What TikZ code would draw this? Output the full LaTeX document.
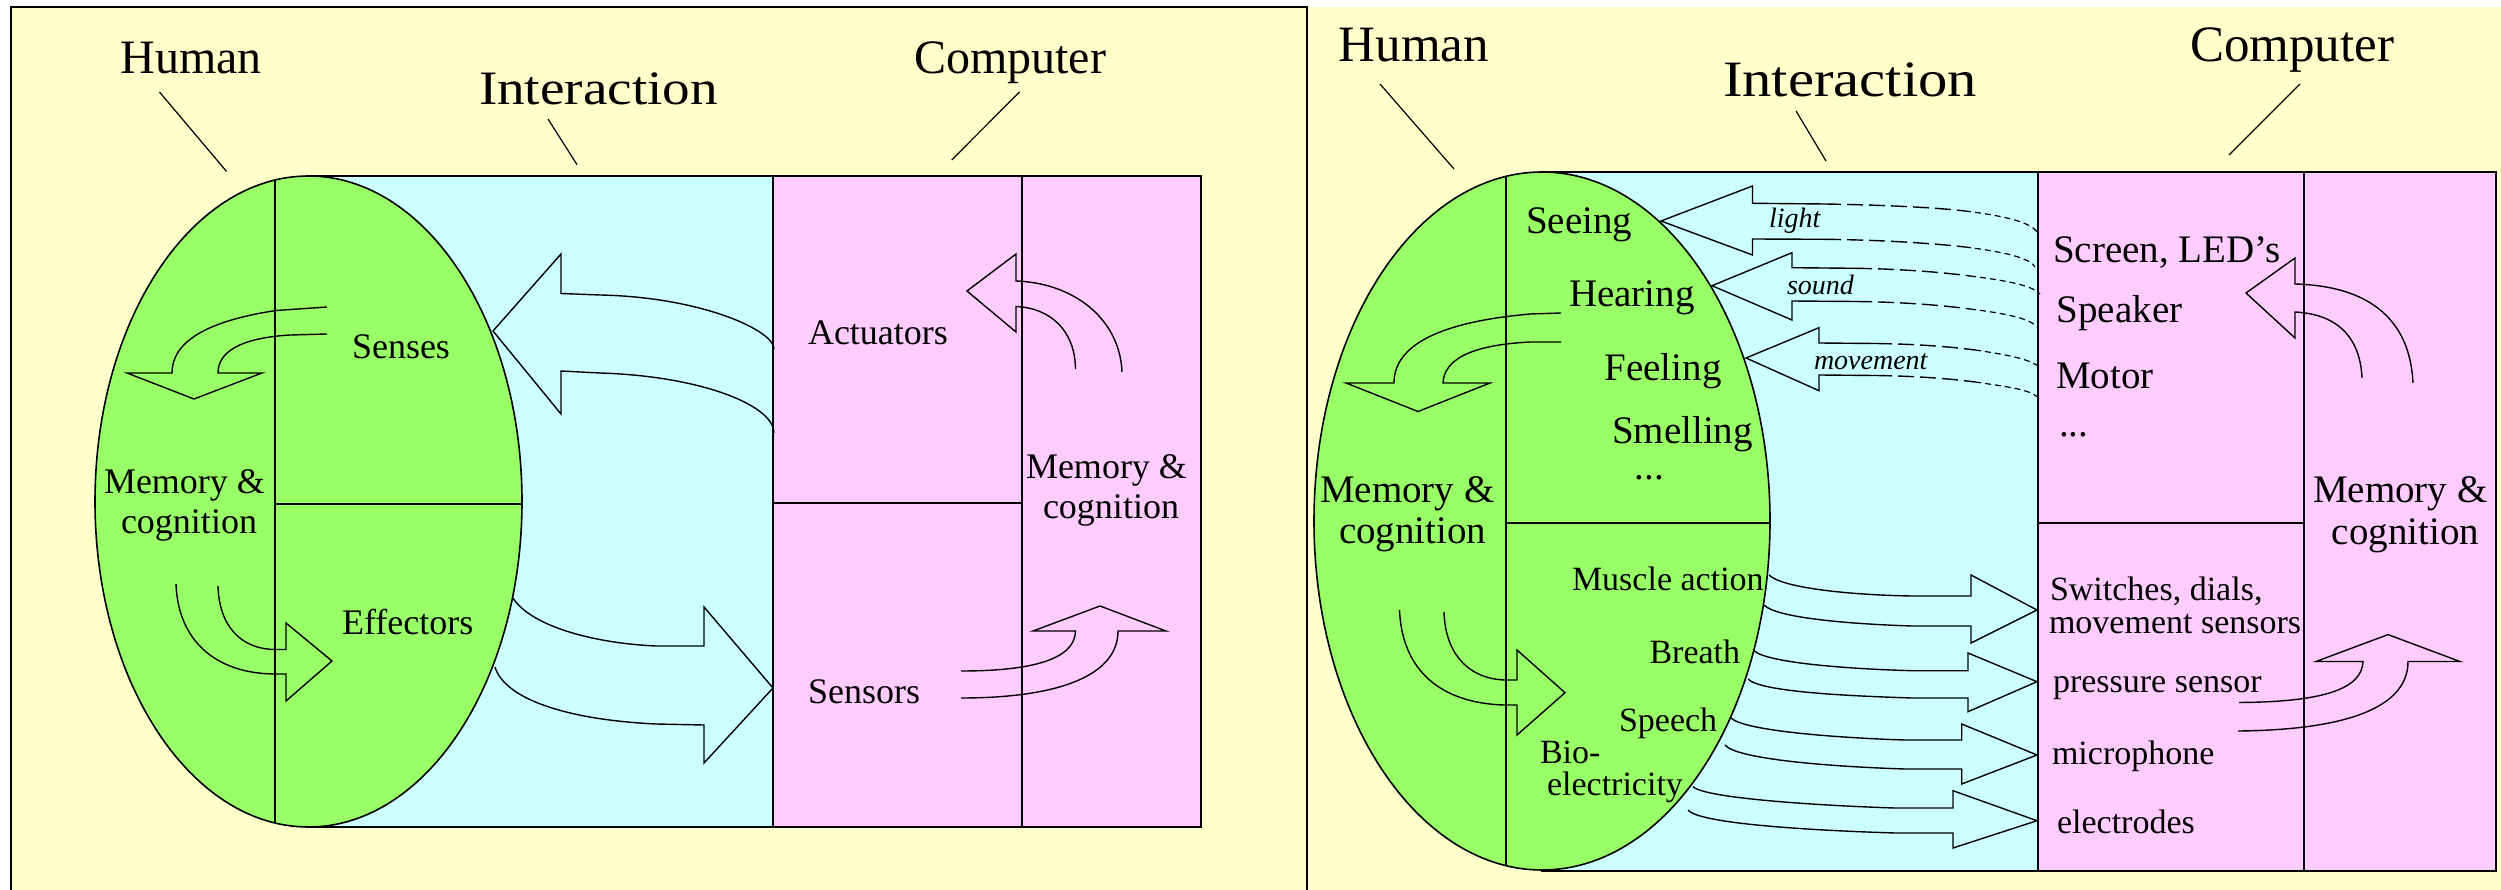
\documentclass[tikz,border=0pt]{standalone}
\usepackage{fontspec}
\setmainfont{Liberation Serif}
\definecolor{bgy}{RGB}{255,255,204}
\definecolor{cy}{RGB}{204,255,255}
\definecolor{gr}{RGB}{153,255,102}
\definecolor{pk}{RGB}{255,204,255}
\newcommand{\myfs}[1]{\fontsize{#1}{#1}\selectfont}
\begin{document}
\begin{tikzpicture}[x=1pt,y=-1pt,
  box/.style={draw=black,line width=2pt},
  divl/.style={draw=black,line width=1.6pt},
  blk/.style={draw=black,line width=1.4pt,line join=miter},
  dsh/.style={draw=black,line width=1.4pt,dash pattern=on 16pt off 6pt},
  dtt/.style={draw=black,line width=1.2pt,dash pattern=on 6pt off 4pt},
  lead/.style={draw=black,line width=1.2pt},
  lbl/.style={anchor=base west,inner sep=0pt,outer sep=0pt},
  ttlA/.style={lbl,font=\myfs{48}},
  ttlB/.style={lbl,font=\myfs{51}},
  inA/.style={lbl,font=\myfs{36}},
  inB/.style={lbl,font=\myfs{39}},
  inC/.style={lbl,font=\myfs{34}},
  itl/.style={lbl,font=\myfs{28}\itshape}]
\useasboundingbox (0,0) rectangle (2501,890);
\fill[white] (0,0) rectangle (2501,890);
% panels
\fill[bgy] (11,7) rectangle (1307,890);
\fill[bgy] (1307,7) rectangle (2501,890);
\draw[box] (11,890) -- (11,7) -- (1307,7) -- (1307,890);

% ---------------- LEFT PANEL ----------------
\draw[box,fill=cy] (308.5,176) rectangle (773,827);
\draw[line width=1.6pt,fill=gr] (308.5,501.5) ellipse [x radius=213.5pt, y radius=325.5pt];
\begin{scope}
  \clip (308.5,501.5) ellipse [x radius=213.5pt, y radius=325.5pt];
  \draw[divl] (275,170) -- (275,830);
  \draw[divl] (275,504) -- (530,504);
\end{scope}
\draw[box,fill=pk] (773,176) rectangle (1201,827);
\draw[divl] (1022,176) -- (1022,827);
\draw[divl] (773,503) -- (1022,503);

% arrows left panel
\draw[blk] (774,349) .. controls (774,330) and (700,297) .. (600,295) -- (561,293.5) -- (561,254) -- (493,331) -- (561,414) -- (561,371) -- (600,373) .. controls (700,376) and (774,405) .. (774,433);
\draw[blk] (513,598) .. controls (530,625) and (590,643) .. (656,646) -- (704,646) -- (704,607) -- (773,688) -- (704,763) -- (704,725) -- (656,724) .. controls (570,720) and (505,700) .. (495,667);
\draw[blk] (327,307) -- (276,310.5) .. controls (200,322) and (172,345) .. (172,373) -- (127,373) -- (194,399) -- (262,373) -- (218,373) .. controls (218,352) and (240,338) .. (290,335) -- (327,334);
\draw[blk] (176,584) .. controls (178,640) and (215,674) .. (276,674) -- (286,674) -- (286,701) -- (332,661) -- (286,623) -- (286,649.5) -- (276,649.5) .. controls (240,649.5) and (219,625) .. (218,586);
\draw[blk] (1122,372) .. controls (1120,320) and (1075,283) .. (1016,281) -- (1016,254) -- (967,291) -- (1016,332) -- (1016,306.5) .. controls (1050,308) and (1075,330) .. (1075.5,369);
\draw[blk] (961,698) .. controls (1060,698) and (1118,675) .. (1118,631) -- (1166,631) -- (1100,606) -- (1033,631) -- (1075.5,631) .. controls (1075,660) and (1030,671) .. (961,671);

% texts left panel
\node[ttlA] (lHuman) at (120.4,73.8) {Human};
\node[ttlA] (lInter) at (479,105) {\scalebox{1.15}[1]{Interaction}};
\node[ttlA] (lComp) at (914,73.8) {Computer};
\node[inA] (lSenses) at (352,358.7) {Senses};
\node[inA] (lMem1) at (104,493.8) {Memory \&};
\node[inA] (lCog1) at (121,533.5) {cognition};
\node[inA] (lEff) at (342,634.5) {Effectors};
\node[inA] (lAct) at (808,345) {Actuators};
\node[inA] (lSens) at (808,703.7) {Sensors};
\node[inA] (lMem2) at (1026,478.4) {Memory \&};
\node[inA] (lCog2) at (1043,518) {cognition};

\coordinate (lhA) at (159.5,92);   \coordinate (lhB) at (226.5,171.4);
\coordinate (liA) at (548,119);    \coordinate (liB) at (577,164.6);
\coordinate (lcA) at (1019.5,92);  \coordinate (lcB) at (951.7,160);
\draw[lead] (lhA) -- (lhB);
\draw[lead] (liA) -- (liB);
\draw[lead] (lcA) -- (lcB);

% ---------------- RIGHT PANEL ----------------
\draw[box,fill=cy] (1542,172) rectangle (2038,871);
\draw[line width=1.6pt,fill=gr] (1542,521) ellipse [x radius=228pt, y radius=349pt];
\begin{scope}
  \clip (1542,521) ellipse [x radius=228pt, y radius=349pt];
  \draw[divl] (1506,165) -- (1506,875);
  \draw[divl] (1506,523) -- (1775,523);
\end{scope}
\draw[box,fill=pk] (2038,172) rectangle (2496,871);
\draw[divl] (2304,172) -- (2304,871);
\draw[divl] (2038,523) -- (2304,523);

% dashed arrows (computer -> senses)
\draw[blk] (1825,204) -- (1752.5,203.3) -- (1752.5,186) -- (1661,221) -- (1752.5,255) -- (1752.5,239) -- (1825,239.3);
\draw[dsh] (1825,204) .. controls (1880,205) and (1930,207) .. (1965,211);
\draw[dtt] (1965,211) .. controls (2005,216) and (2030,222) .. (2037,232);
\draw[dsh] (1825,239.3) .. controls (1880,240) and (1930,243) .. (1965,247);
\draw[dtt] (1965,247) .. controls (2005,252) and (2030,258) .. (2035,267);

\draw[blk] (1856,268.3) -- (1792,267.7) -- (1792,252.7) -- (1712,285.7) -- (1792,320) -- (1792,301) -- (1856,301.5);
\draw[dsh] (1856,268.3) .. controls (1900,269) and (1940,272) .. (1970,276);
\draw[dtt] (1970,276) .. controls (2010,281) and (2033,286) .. (2040,294);
\draw[dsh] (1856,301.5) .. controls (1900,302) and (1940,305) .. (1970,309);
\draw[dtt] (1970,309) .. controls (2010,314) and (2030,319) .. (2037,327);

\draw[blk] (1876,343.5) -- (1819,343) -- (1819,327.7) -- (1746,358) -- (1819,390.7) -- (1819,375) -- (1876,375.5);
\draw[dsh] (1876,343.5) .. controls (1910,344) and (1945,346) .. (1975,350);
\draw[dtt] (1975,350) .. controls (2010,355) and (2033,360) .. (2040,368);
\draw[dsh] (1876,375.5) .. controls (1910,376) and (1945,378) .. (1975,382);
\draw[dtt] (1975,382) .. controls (2010,387) and (2030,390) .. (2037,396.7);

% solid arrows (effectors -> sensors)
\draw[blk] (1769,575) .. controls (1782,588) and (1850,595) .. (1912,596) -- (1971,596) -- (1971,575) -- (2037,610) -- (1971,643) -- (1971,626) -- (1912,626) .. controls (1850,624) and (1776,618) .. (1764,605);
\draw[blk] (1754,650.7) .. controls (1767,663) and (1850,669) .. (1912,670.7) -- (1968,670.7) -- (1968,653) -- (2037,681.7) -- (1968,711.7) -- (1968,698) -- (1912,698) .. controls (1850,696) and (1760,692) .. (1748,679);
\draw[blk] (1731,718) .. controls (1744,731) and (1840,738) .. (1905,740) -- (1961.7,740) -- (1961.7,724) -- (2037,755) -- (1961.7,784) -- (1961.7,769) -- (1905,769) .. controls (1840,767) and (1737,760) .. (1725,745);
\draw[blk] (1693,786.7) .. controls (1706,799) and (1830,806) .. (1895,808) -- (1953,808) -- (1953,790.7) -- (2037,820.7) -- (1953,848) -- (1953,833) -- (1895,833) .. controls (1830,831) and (1700,825) .. (1688,810);

% inner arrows right panel
\draw[blk] (1561,313) -- (1530,314) .. controls (1440,322) and (1394,345) .. (1394,383) -- (1346,383) -- (1418,411.5) -- (1490,383) -- (1443,383) .. controls (1444,360) and (1470,345) .. (1530,342) -- (1561,342);
\draw[blk] (1399.5,610) .. controls (1402,670) and (1440,703) .. (1504,705) -- (1517,705) -- (1517,735) -- (1565,692.7) -- (1517,650) -- (1517,680) -- (1504,680) .. controls (1465,678) and (1445,650) .. (1444,612);
\draw[blk] (2413,383) .. controls (2410,320) and (2370,286) .. (2295,284) -- (2295,258) -- (2246,293) -- (2295,338) -- (2295,312) .. controls (2335,314) and (2360,335) .. (2362,378);
\draw[blk] (2238,731) .. controls (2340,730) and (2408,710) .. (2408,661.5) -- (2460,661.5) -- (2388,634.6) -- (2316,661.5) -- (2363,661.5) .. controls (2362,690) and (2320,702) .. (2239,702.5);

% texts right panel
\node[ttlB] (rHuman) at (1338.8,61.3) {Human};
\node[ttlB] (rInter) at (1723,96.5) {\scalebox{1.15}[1]{Interaction}};
\node[ttlB] (rComp) at (2190,61.3) {Computer};
\node[inB] (rSee) at (1526,233.5) {Seeing};
\node[inB] (rHear) at (1569,306.7) {Hearing};
\node[inB] (rFeel) at (1604.6,380.7) {Feeling};
\node[inB] (rSmell) at (1612,443.9) {Smelling};
\node[inB] (rDots1) at (1634.8,479.6) {...};
\node[inB] (rMem1) at (1320,502) {Memory \&};
\node[inB] (rCog1) at (1339,543.5) {cognition};
\node[inC] (rMus) at (1572,590) {Muscle action};
\node[inC] (rBre) at (1649.5,663.3) {Breath};
\node[inC] (rSpe) at (1619,731) {Speech};
\node[inC] (rBio) at (1540,763.3) {Bio-};
\node[inC] (rEle) at (1547,795) {electricity};
\node[itl] (rLight) at (1769,227.3) {light};
\node[itl] (rSound) at (1787,295) {sound};
\node[itl] (rMove) at (1814,369.3) {movement};
\node[inB] (rScr) at (2053,263) {Screen, LED's};
\node[inB] (rSpk) at (2056.7,322.6) {Speaker};
\node[inB] (rMot) at (2056,388.7) {Motor};
\node[inB] (rDots2) at (2059,436) {...};
\node[inC] (rSw) at (2050,600) {Switches, dials,};
\node[inC] (rMs) at (2049,633) {movement sensors};
\node[inC] (rPs) at (2053,692) {pressure sensor};
\node[inC] (rMic) at (2052,764) {microphone};
\node[inC] (rEl) at (2057,833.7) {electrodes};
\node[inB] (rMem2) at (2313,502.4) {Memory \&};
\node[inB] (rCog2) at (2331.7,544.4) {cognition};

\coordinate (rhA) at (1380,84);   \coordinate (rhB) at (1454,169);
\coordinate (riA) at (1796,111);  \coordinate (riB) at (1826,161);
\coordinate (rcA) at (2300,84);   \coordinate (rcB) at (2229,155);
\draw[lead] (rhA) -- (rhB);
\draw[lead] (riA) -- (riB);
\draw[lead] (rcA) -- (rcB);
\end{tikzpicture}
\end{document}
